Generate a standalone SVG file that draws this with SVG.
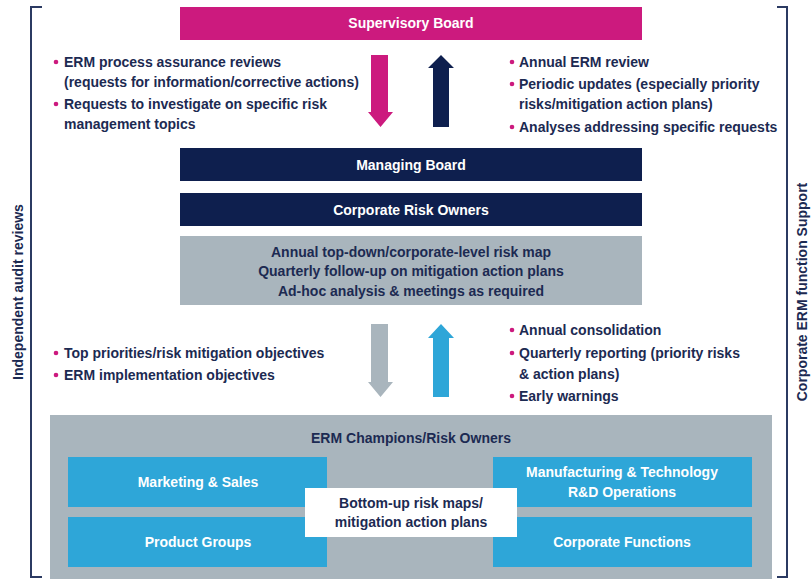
<svg xmlns="http://www.w3.org/2000/svg" width="812" height="579" viewBox="0 0 812 579">
<style>
.t{font-family:"Liberation Sans",Arial,sans-serif;font-size:14px;font-weight:bold;fill:#1c2a52}
.w{font-family:"Liberation Sans",Arial,sans-serif;font-size:14px;font-weight:bold;fill:#ffffff;text-anchor:middle}
.c{text-anchor:middle}
.dot{fill:#cc1a7e}
.br{fill:none;stroke:#2b3a62;stroke-width:2}
</style>
<rect width="812" height="579" fill="#ffffff"/>
<g id="brackets">
<path class="br" d="M42 7 H31 V577 H42"/>
<path class="br" d="M777 7 H787 V577 H777"/>
<text class="t c" transform="translate(23,292) rotate(-90)">Independent audit reviews</text>
<text class="t c" transform="translate(807,292) rotate(-90)">Corporate ERM function Support</text>
</g>
<g id="supervisory">
<rect x="180" y="7" width="462" height="33" fill="#cc1a7e"/>
<text class="w" x="411" y="28">Supervisory Board</text>
</g>
<g id="managing">
<rect x="180" y="148" width="462" height="33" fill="#0e1f4e"/>
<text class="w" x="411" y="170">Managing Board</text>
</g>
<g id="corporate-risk-owners">
<rect x="180" y="193" width="462" height="33" fill="#0e1f4e"/>
<text class="w" x="411" y="215">Corporate Risk Owners</text>
</g>
<g id="corporate-activities">
<rect x="180" y="236" width="462" height="69" fill="#a9b5bd"/>
<text class="t c" x="411" y="257">Annual top-down/corporate-level risk map</text>
<text class="t c" x="411" y="276">Quarterly follow-up on mitigation action plans</text>
<text class="t c" x="411" y="296">Ad-hoc analysis &amp; meetings as required</text>
</g>
<g id="connectors">
<polygon fill="#cc1a7e" points="371,55 388,55 388,112 393,112 380.5,127 368,112 371,112"/>
<polygon fill="#0e1f4e" points="433,127 449,127 449,68 454,68 441,55 428,68 433,68"/>
<polygon fill="#a9b5bd" points="371,324 388,324 388,382 393,382 380.5,397 368,382 371,382"/>
<polygon fill="#2ea6d8" points="433,397 449,397 449,338 454,338 441,324 428,338 433,338"/>
</g>
<g id="top-left-text">
<circle class="dot" cx="56" cy="62" r="2.3"/>
<text class="t" x="64" y="67">ERM process assurance reviews</text>
<text class="t" x="64" y="87">(requests for information/corrective actions)</text>
<circle class="dot" cx="56" cy="104" r="2.3"/>
<text class="t" x="64" y="109">Requests to investigate on specific risk</text>
<text class="t" x="64" y="129">management topics</text>
</g>
<g id="top-right-text">
<circle class="dot" cx="512" cy="62" r="2.3"/>
<text class="t" x="519" y="67">Annual ERM review</text>
<circle class="dot" cx="512" cy="84" r="2.3"/>
<text class="t" x="519" y="89">Periodic updates (especially priority</text>
<text class="t" x="519" y="109">risks/mitigation action plans)</text>
<circle class="dot" cx="512" cy="127" r="2.3"/>
<text class="t" x="519" y="132">Analyses addressing specific requests</text>
</g>
<g id="mid-left-text">
<circle class="dot" cx="56" cy="353" r="2.3"/>
<text class="t" x="64" y="358">Top priorities/risk mitigation objectives</text>
<circle class="dot" cx="56" cy="375" r="2.3"/>
<text class="t" x="64" y="380">ERM implementation objectives</text>
</g>
<g id="mid-right-text">
<circle class="dot" cx="512" cy="330" r="2.3"/>
<text class="t" x="519" y="335">Annual consolidation</text>
<circle class="dot" cx="512" cy="353" r="2.3"/>
<text class="t" x="519" y="358">Quarterly reporting (priority risks</text>
<text class="t" x="519" y="379">&amp; action plans)</text>
<circle class="dot" cx="512" cy="396" r="2.3"/>
<text class="t" x="519" y="401">Early warnings</text>
</g>
<g id="erm-champions">
<rect x="50" y="415" width="722" height="164" fill="#a9b5bd"/>
<text class="t c" x="411" y="443">ERM Champions/Risk Owners</text>
</g>
<g id="marketing-sales">
<rect x="68" y="457" width="259" height="50" fill="#2ea6d8"/>
<text class="w" x="198" y="487">Marketing &amp; Sales</text>
</g>
<g id="product-groups">
<rect x="68" y="517" width="259" height="50" fill="#2ea6d8"/>
<text class="w" x="198" y="547">Product Groups</text>
</g>
<g id="manufacturing">
<rect x="493" y="457" width="259" height="50" fill="#2ea6d8"/>
<text class="w" x="622" y="477">Manufacturing &amp; Technology</text>
<text class="w" x="622" y="497">R&amp;D Operations</text>
</g>
<g id="corporate-functions">
<rect x="493" y="517" width="259" height="50" fill="#2ea6d8"/>
<text class="w" x="622" y="547">Corporate Functions</text>
</g>
<g id="bottom-up">
<rect x="305" y="488" width="212" height="49" fill="#ffffff"/>
<text class="t c" x="411" y="508">Bottom-up risk maps/</text>
<text class="t c" x="411" y="527">mitigation action plans</text>
</g>
</svg>
